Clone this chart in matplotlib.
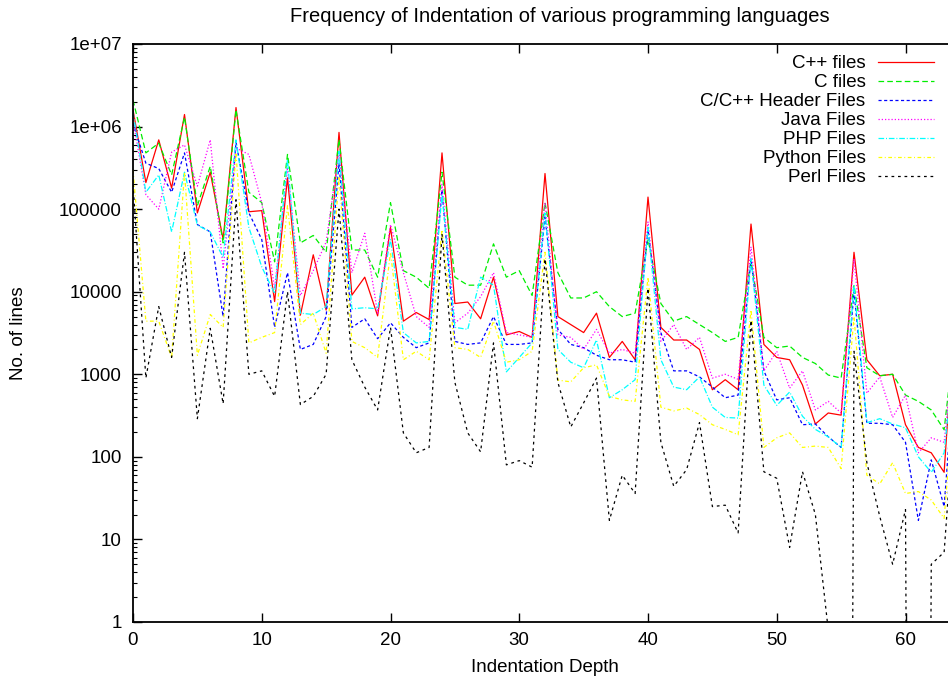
import matplotlib
matplotlib.use("Agg")
import matplotlib.pyplot as plt
from matplotlib.ticker import FixedLocator, FixedFormatter, NullFormatter
import numpy as np

depth = list(range(0, 65))

cpp = [1.6e6, 2.1e5, 6.9e5, 1.8e5, 1.4e6, 9.0e4, 2.8e5, 4.3e4, 1.7e6, 9.3e4,
       9.6e4, 7.6e3, 2.4e5, 5.2e3, 2.8e4, 6.0e3, 8.5e5, 9.1e3, 1.5e4, 5.1e3,
       6.0e4, 4.4e3, 5.6e3, 4.6e3, 4.8e5, 7.2e3, 7.5e3, 4.7e3, 1.5e4, 3.0e3,
       3.3e3, 2.8e3, 2.7e5, 5.0e3, 4.0e3, 3.2e3, 5.5e3, 1.6e3, 2.5e3, 1.5e3,
       1.4e5, 3.7e3, 2.6e3, 2.6e3, 2.0e3, 650, 860, 650, 6.6e4, 2.3e3,
       1.6e3, 1.5e3, 740, 250, 340, 320, 3.0e4, 1.5e3, 960, 1.0e3,
       245, 130, 112, 65, 1.4e4]

c_files = [2.1e6, 4.8e5, 6.3e5, 2.6e5, 1.3e6, 1.1e5, 3.3e5, 3.9e4, 1.6e6, 1.6e5,
           1.2e5, 2.3e4, 4.6e5, 3.9e4, 4.8e4, 3.0e4, 7.0e5, 3.2e4, 3.2e4, 1.5e4,
           1.2e5, 1.8e4, 1.5e4, 1.1e4, 2.8e5, 1.5e4, 1.2e4, 1.2e4, 3.8e4, 1.5e4,
           1.8e4, 9.0e3, 1.2e5, 1.7e4, 8.4e3, 8.4e3, 1.0e4, 6.6e3, 5.0e3, 5.5e3,
           4.3e4, 7.2e3, 4.4e3, 5.0e3, 4.0e3, 3.2e3, 2.5e3, 2.8e3, 2.3e4, 2.8e3,
           2.1e3, 2.2e3, 1.6e3, 1.35e3, 980, 900, 1.2e4, 1.2e3, 960, 1.0e3,
           560, 470, 370, 213, 5.0e3]

header = [1.1e6, 3.6e5, 3.1e5, 1.6e5, 4.8e5, 6.5e4, 5.3e4, 5.0e3, 6.5e5, 9.0e4,
          4.3e4, 3.7e3, 1.7e4, 2.0e3, 2.3e3, 5.0e3, 3.6e5, 3.7e3, 4.7e3, 2.7e3,
          4.2e3, 2.8e3, 2.1e3, 2.4e3, 1.7e5, 2.5e3, 2.3e3, 2.4e3, 5.0e3, 2.3e3,
          2.3e3, 2.4e3, 8.0e4, 3.5e3, 2.3e3, 2.1e3, 1.7e3, 1.5e3, 1.5e3, 1.4e3,
          5.6e4, 3.2e3, 1.1e3, 1.1e3, 930, 700, 520, 560, 2.5e4, 1.1e3,
          490, 520, 245, 250, 175, 130, 1.0e4, 255, 255, 245,
          150, 17, 92, 25, 3.0e3]

java = [1.2e6, 1.5e5, 1.0e5, 4.9e5, 6.0e5, 1.9e5, 6.9e5, 1.9e4, 5.5e5, 4.6e5,
        1.2e5, 1.1e4, 3.2e5, 9.0e3, 1.8e4, 4.0e4, 5.0e5, 1.7e4, 5.1e4, 5.5e3,
        6.5e4, 1.7e4, 5.0e3, 3.7e3, 2.0e5, 4.2e3, 5.5e3, 8.7e3, 1.7e4, 3.2e3,
        3.0e3, 2.8e3, 1.2e5, 3.0e3, 2.8e3, 2.0e3, 3.5e3, 1.8e3, 2.0e3, 1.8e3,
        7.0e4, 2.5e3, 4.0e3, 2.0e3, 2.8e3, 900, 1.0e3, 870, 3.5e4, 1.1e3,
        1.9e3, 680, 1.1e3, 370, 470, 340, 2.5e4, 590, 930, 300,
        560, 112, 170, 150, 5.0e3]

php = [1.5e6, 1.6e5, 2.6e5, 5.3e4, 2.8e5, 6.4e4, 5.3e4, 2.6e4, 6.9e5, 6.0e4,
       2.0e4, 9.5e3, 4.0e5, 5.5e3, 5.3e3, 6.6e3, 5.0e5, 6.2e3, 6.4e3, 6.2e3,
       4.3e4, 3.2e3, 2.4e3, 2.5e3, 1.5e5, 3.7e3, 3.5e3, 1.5e4, 1.2e4, 1.07e3,
       1.6e3, 2.4e3, 9.0e4, 2.0e3, 1.4e3, 1.2e3, 2.6e3, 520, 650, 860,
       6.0e4, 1.5e3, 700, 650, 930, 400, 300, 295, 2.5e4, 740,
       420, 610, 310, 215, 175, 130, 1.2e4, 260, 290, 250,
       225, 100, 65, 112, 4.0e3]

python = [3.0e5, 4.4e3, 4.4e3, 1.6e3, 2.8e5, 1.7e3, 5.3e3, 3.7e3, 4.8e5, 2.4e3,
          2.8e3, 3.2e3, 1.1e5, 4.0e3, 5.5e3, 1.8e3, 2.5e5, 2.5e3, 2.1e3, 1.6e3,
          3.0e4, 1.5e3, 1.9e3, 1.5e3, 5.6e4, 2.1e3, 2.0e3, 1.6e3, 4.4e3, 1.4e3,
          1.5e3, 1.9e3, 3.0e4, 850, 810, 1.2e3, 1.3e3, 540, 490, 470,
          1.5e4, 400, 360, 390, 325, 245, 215, 185, 6.0e3, 130,
          170, 195, 130, 135, 130, 72, 5.0e3, 60, 47, 85,
          36, 38, 30, 18, 1.5e3]

perl = [2.0e5, 900, 6.6e3, 1.6e3, 3.0e4, 290, 3.6e3, 440, 1.3e5, 1.0e3,
        1.1e3, 540, 1.0e4, 430, 540, 1.0e3, 1.0e5, 1.5e3, 700, 370,
        3.7e3, 195, 112, 130, 5.0e4, 800, 195, 115, 2.4e3, 80,
        90, 75, 2.5e4, 800, 230, 450, 900, 17, 60, 36,
        1.1e4, 150, 44, 70, 260, 25, 26, 12, 4.5e3, 66,
        55, 8, 66, 20, 0.8, 1e-30, 1.9e3, 85, 19, 5,
        23, 1e-30, 5, 7, 1.0e3]

series_labels = ["C++ files", "C files", "C/C++ Header Files", "Java Files",
                 "PHP Files", "Python Files", "Perl Files"]
ytick_vals = [1, 10, 100, 1000, 10000, 100000, 1e6, 1e7]
ytick_text = ["1", "10", "100", "1000", "10000", "100000", "1e+06", "1e+07"]
xtick_vals = [0, 10, 20, 30, 40, 50, 60]

FONT = "Liberation Sans"
FS = 13.5
plt.rcParams["font.family"] = [FONT, "DejaVu Sans"]

W, H = 948, 682
fig = plt.figure(figsize=(W / 100, H / 100), dpi=100)
x0, x1, ytop, ybot = 133, 957, 44, 622
ax = fig.add_axes([x0 / W, 1 - ybot / H, (x1 - x0) / W, (ybot - ytop) / H])

styles = [
    dict(color="#ff0000", ls="-"),
    dict(color="#00ee00", ls=(0, (4.5, 2.5))),
    dict(color="#0000ff", ls=(0, (2.5, 2.0))),
    dict(color="#ff00ff", ls=(0, (1.0, 1.6))),
    dict(color="#00ffff", ls=(0, (4.5, 1.5, 0.8, 1.5))),
    dict(color="#ffff00", ls=(0, (3.0, 2.0, 0.8, 2.0))),
    dict(color="#000000", ls=(0, (2.2, 3.0))),
]
data = [cpp, c_files, header, java, php, python, perl]
for vals, lab, st in zip(data, series_labels, styles):
    ax.plot(depth, vals, lw=0.9, label=lab, **st)

ax.set_yscale("log")
ax.set_xlim(0, 64)
ax.set_ylim(1, 1e7)
ax.yaxis.set_major_locator(FixedLocator(ytick_vals))
ax.yaxis.set_major_formatter(FixedFormatter(ytick_text))
minor = [m * 10 ** k for k in range(0, 7) for m in range(2, 10)]
ax.yaxis.set_minor_locator(FixedLocator(minor))
ax.yaxis.set_minor_formatter(NullFormatter())
ax.set_xticks(xtick_vals)
ax.tick_params(axis="both", which="major", direction="in", length=6.5, width=1,
               top=True, right=True, labelsize=FS)
ax.tick_params(axis="y", which="minor", direction="in", length=3.2, width=0.8,
               right=True)
ax.tick_params(axis="y", which="major", pad=8)
ax.tick_params(axis="x", which="major", pad=7)
for s in ax.spines.values():
    s.set_linewidth(1.3)

leg = ax.legend(loc="upper right", bbox_to_anchor=(934 / W, 1 - 55 / H),
                bbox_transform=fig.transFigure, frameon=False, markerfirst=False,
                fontsize=FS, handlelength=3.0, handletextpad=0.65,
                labelspacing=0.1, borderpad=0, borderaxespad=0)

fig.text(560 / W, 1 - 16 / H, "Frequency of Indentation of various programming languages",
         ha="center", va="center", fontsize=14.5)
fig.text(545 / W, 1 - 668 / H, "Indentation Depth", ha="center", va="center", fontsize=FS)
fig.text(19 / W, 1 - 333 / H, "No. of lines", ha="center", va="center",
         rotation=90, fontsize=FS)

fig.savefig("out.png", dpi=100)
